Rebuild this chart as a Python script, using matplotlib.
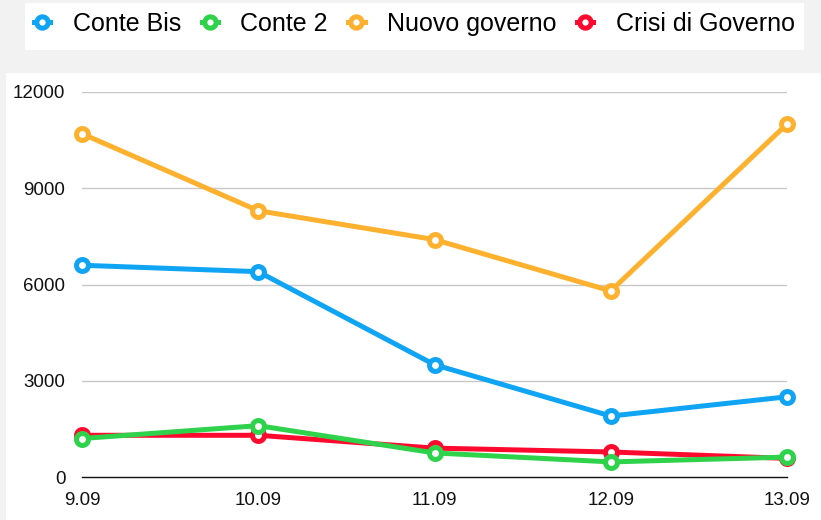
import matplotlib
matplotlib.use("Agg")
import matplotlib.pyplot as plt
from matplotlib.patches import Rectangle

plt.rcParams['font.family'] = ['Liberation Sans', 'DejaVu Sans']

dates = ["9.09", "10.09", "11.09", "12.09", "13.09"]
conte_bis = [6600, 6400, 3500, 1900, 2500]
conte_2 = [1200, 1600, 750, 470, 620]
nuovo_governo = [10700, 8300, 7400, 5800, 11000]
crisi_governo = [1300, 1300, 900, 780, 580]
y_ticks = [0, 3000, 6000, 9000, 12000]

series = [
    ("Conte Bis", conte_bis, "#10a4f4", 4),
    ("Conte 2", conte_2, "#2fd34b", 4),
    ("Nuovo governo", nuovo_governo, "#fdb12e", 4),
    ("Crisi di Governo", crisi_governo, "#ff0a2e", 3),
]

W, H = 821, 520
fig = plt.figure(figsize=(W / 100, H / 100), dpi=100, facecolor="#f2f2f2")

# white panels
fig.patches.append(Rectangle((6 / W, 0), 1 - 6 / W, (H - 73) / H, transform=fig.transFigure,
                             facecolor="white", edgecolor="none", zorder=-2))
fig.patches.append(Rectangle((25 / W, (H - 50) / H), (804 - 25) / W, 47 / H, transform=fig.transFigure,
                             facecolor="white", edgecolor="none", zorder=-2))

ax = fig.add_axes([82 / W, (H - 477) / H, (787 - 82) / W, (477 - 92) / H])
ax.set_zorder(1)
ax.set_facecolor("none")
x = list(range(len(dates)))
handles = []
for name, vals, col, z in series:
    ln, = ax.plot(x, vals, color=col, lw=3.6, marker="o", ms=8.6, mew=3.6,
                  mfc="white", mec=col, label=name, zorder=z, clip_on=False,
                  solid_joinstyle="round")
    handles.append(ln)

ax.set_xlim(0, len(dates) - 1)
ax.set_ylim(0, 12000)
ax.set_xticks(x)
ax.set_xticklabels(dates)
ax.set_yticks(y_ticks)
ax.set_yticklabels([str(v) for v in y_ticks])
ax.tick_params(axis="both", length=0, labelsize=13.5, colors="#111111")
ax.tick_params(axis="y", pad=12)
ax.tick_params(axis="x", pad=11)
ax.grid(axis="y", color="#c8c8c8", lw=1)
ax.set_axisbelow(True)
for s in ["top", "right", "left"]:
    ax.spines[s].set_visible(False)
ax.spines["bottom"].set_color("#111111")
ax.spines["bottom"].set_linewidth(1)
ax.spines["bottom"].set_zorder(0.5)

leg = fig.legend(handles=handles, loc="center left", bbox_to_anchor=(34 / W, (H - 24) / H),
                 ncol=4, frameon=False, fontsize=18, handlelength=0.65, handletextpad=0.9,
                 columnspacing=0.82, borderpad=0, borderaxespad=0, markerscale=0.95)
for h in leg.legend_handles:
    h.set_linewidth(3.6)

fig.savefig("out.png", dpi=100, facecolor=fig.get_facecolor())
